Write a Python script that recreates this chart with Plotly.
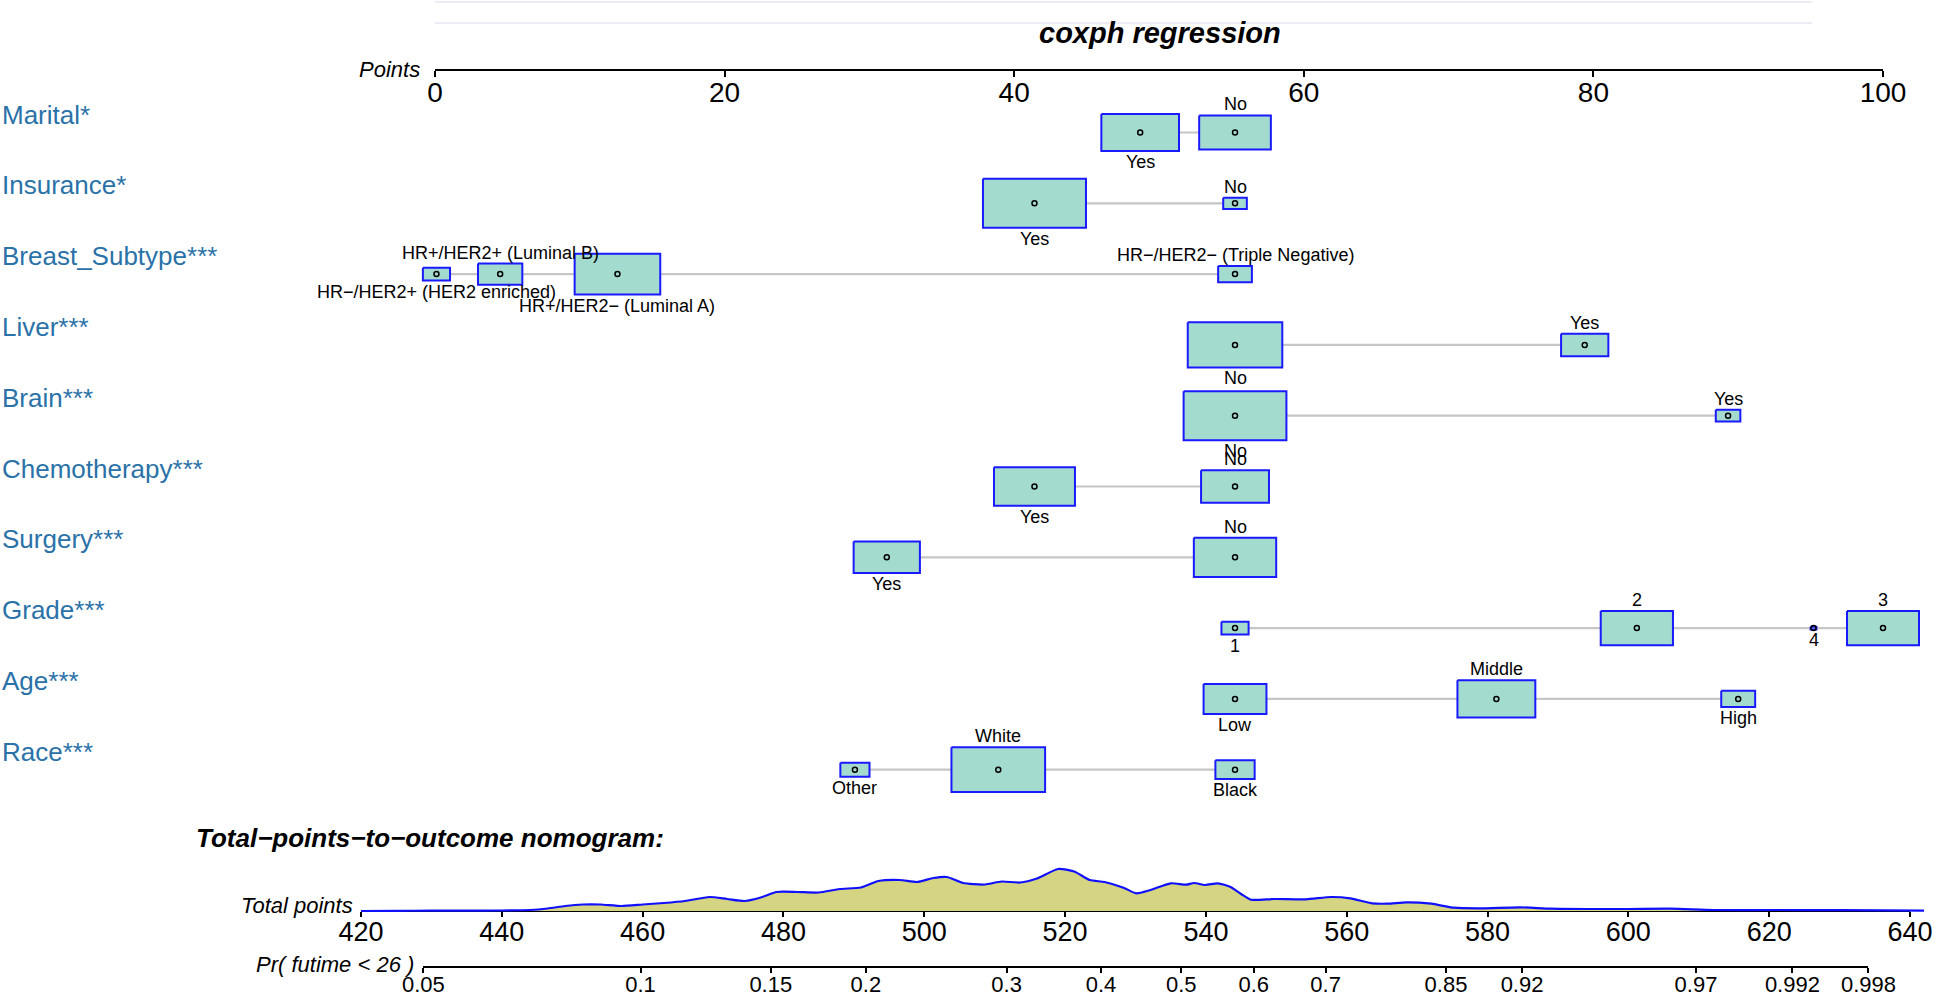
import numpy as np
import plotly.graph_objects as go

W, H = 1946, 996
FONT = "Liberation Sans, Arial, Helvetica, sans-serif"

# ---- nomogram data ----
variables = ["Marital*", "Insurance*", "Breast_Subtype***", "Liver***", "Brain***",
             "Chemotherapy***", "Surgery***", "Grade***", "Age***", "Race***"]
levels = [
    ["Yes", "No"],
    ["Yes", "No"],
    ["HR−/HER2+ (HER2 enriched)", "HR+/HER2+ (Luminal B)",
     "HR+/HER2− (Luminal A)", "HR−/HER2− (Triple Negative)"],
    ["No", "Yes"],
    ["No", "Yes"],
    ["Yes", "No"],
    ["Yes", "No"],
    ["1", "2", "4", "3"],
    ["Low", "Middle", "High"],
    ["Other", "White", "Black"],
]
points = [
    [48.7, 55.25],
    [41.4, 55.25],
    [0.1, 4.5, 12.6, 55.25],
    [55.25, 79.4],
    [55.25, 89.3],
    [41.4, 55.25],
    [31.2, 55.25],
    [55.25, 83.0, 95.2, 100.0],
    [55.25, 73.3, 90.0],
    [29.0, 38.9, 55.25],
]
freq = [
    [0.54, 0.46],
    [0.95, 0.05],
    [0.066, 0.176, 0.656, 0.102],
    [0.80, 0.20],
    [0.946, 0.054],
    [0.587, 0.413],
    [0.393, 0.607],
    [0.066, 0.467, 0.003, 0.464],
    [0.354, 0.543, 0.103],
    [0.076, 0.785, 0.138],
]

points_ticks = [0, 20, 40, 60, 80, 100]
total_ticks = [420, 440, 460, 480, 500, 520, 540, 560, 580, 600, 620, 640]
pr_labels = ["0.05", "0.1", "0.15", "0.2", "0.3", "0.4", "0.5", "0.6", "0.7",
             "0.85", "0.92", "0.97", "0.992", "0.998"]
pr_at_points = [428.85, 459.7, 478.2, 491.7, 511.7, 525.1, 536.5, 546.8, 557.0,
                574.1, 584.9, 609.6, 623.3, 634.1]

dens_x = [420, 425, 430, 435, 440, 444, 446.5, 449, 451.5, 454, 457, 460, 463, 466,
          469.5, 472, 474.5, 477, 479, 482, 485, 488, 491, 493.5, 496.5, 499, 501.3,
          503.2, 505.5, 508.5, 511, 513.6, 516, 519, 521.3, 523.5, 525.6, 528.3, 530.1,
          532, 535, 537.2, 538.3, 539.9, 541.7, 543.5, 545, 546.4, 549.7, 554.2, 557.8,
          560.5, 563.6, 565.8, 568.5, 572, 575.2, 579.2, 584.6, 589, 594.4, 600, 606,
          612.2, 621.2, 630, 642]
density = [0, 0.2, 0.3, 0.4, 0.5, 1, 2.5, 5, 6.5, 6.5, 5, 6.5, 8, 10,
           14, 12, 10, 14, 19, 19, 18.5, 22, 23.5, 30, 31, 29, 33,
           34, 28, 26.5, 29.5, 28.5, 32.5, 42, 39.5, 31, 29, 23.3, 17.7,
           20.7, 27.7, 26.3, 28, 26, 27.7, 24, 17, 11.3, 12, 11.7, 14,
           12.7, 7.7, 7.3, 8.7, 7.3, 3.3, 2.7, 3.7, 2.3, 2, 2, 2.3,
           1, 1, 0.8, 0.3]

# ---- layout geometry (pixels in the 1946x996 page) ----
PTS0_PX, PTS100_PX, PTS_AXIS_PX = 435, 1883, 70
TOT420_PX, TOT640_PX, TOT_AXIS_PX = 361, 1910, 911
PR_AXIS_PX = 967
ROW0_PX, ROW_STEP_PX = 132.5, 70.8
BOX_W_PX, BOX_H_PX = 105.7, 50.4

px_per_pt = (PTS100_PX - PTS0_PX) / 100
px_per_tot = (TOT640_PX - TOT420_PX) / 220


def row_of(py):
    return (py - ROW0_PX) / ROW_STEP_PX


def pyfrac(py):
    return 1 - py / H


BOX_COL = "#a4dbcf"
EDGE_COL = "#1a1aff"
LINE_COL = "#c6c6c6"
LABEL_COL = "#2a72a8"

fig = go.Figure()

# grey connecting lines
lx, ly = [], []
for i, pts in enumerate(points):
    lx += [min(pts), max(pts), None]
    ly += [i, i, None]
fig.add_trace(go.Scatter(x=lx, y=ly, mode="lines", line=dict(color=LINE_COL, width=2.2),
                         hoverinfo="skip", showlegend=False))

# boxes sized by level frequency
bx, by = [], []
annotations = []
for i, (pts, fr, lv) in enumerate(zip(points, freq, levels)):
    for p, f in zip(pts, fr):
        hw = BOX_W_PX * np.sqrt(f) / px_per_pt / 2
        hh = BOX_H_PX * np.sqrt(f) / ROW_STEP_PX / 2
        bx += [p - hw, p + hw, p + hw, p - hw, p - hw, None]
        by += [i - hh, i - hh, i + hh, i + hh, i - hh, None]
    order = np.argsort(pts, kind="stable")
    for rank, j in enumerate(order):
        hh = BOX_H_PX * np.sqrt(fr[j]) / ROW_STEP_PX / 2
        above = rank % 2 == 1
        annotations.append(dict(
            x=pts[j], y=i - hh if above else i + hh, xref="x", yref="y",
            text=lv[j], showarrow=False, xanchor="center",
            yanchor="bottom" if above else "top",
            yshift=-1 if above else 1,
            font=dict(size=18, color="black", family=FONT)))
fig.add_trace(go.Scatter(x=bx, y=by, mode="lines", fill="toself", fillcolor=BOX_COL,
                         line=dict(color=EDGE_COL, width=2), hoverinfo="skip",
                         showlegend=False))

# centre dots
dx = [p for pts in points for p in pts]
dy = [i for i, pts in enumerate(points) for _ in pts]
fig.add_trace(go.Scatter(x=dx, y=dy, mode="markers",
                         marker=dict(symbol="circle-open", size=5, color="black",
                                     line=dict(width=1.5, color="black")),
                         hoverinfo="skip", showlegend=False))

# total points density
fig.add_trace(go.Scatter(x=dens_x, y=density, xaxis="x4", yaxis="y2", mode="lines",
                         fill="tozeroy", fillcolor="#d5d483",
                         line=dict(color="#1010ff", width=2.2, shape="spline", smoothing=0.6),
                         hoverinfo="skip", showlegend=False))

# invisible traces so the scale axes are drawn
for xa, ya, xs in [("x3", "y", points_ticks), ("x2", "y2", total_ticks),
                   ("x5", "y2", pr_at_points)]:
    fig.add_trace(go.Scatter(x=xs, y=[0] * len(xs), xaxis=xa, yaxis=ya, mode="markers",
                             marker=dict(opacity=0), hoverinfo="skip", showlegend=False))

# row labels
for i, name in enumerate(variables):
    annotations.append(dict(x=0, xref="paper", y=i, yref="y", yshift=18, text=name,
                            showarrow=False, xanchor="left", yanchor="middle",
                            font=dict(size=26, color=LABEL_COL, family=FONT)))

annotations += [
    dict(x=1160 / W, y=pyfrac(33), xref="paper", yref="paper",
         text="<b><i>coxph regression</i></b>", showarrow=False,
         xanchor="center", yanchor="middle", font=dict(size=29, color="black", family=FONT)),
    dict(x=422 / W, y=pyfrac(PTS_AXIS_PX), xref="paper", yref="paper",
         text="<i>Points</i>", showarrow=False, xanchor="right", yanchor="middle",
         font=dict(size=22, color="black", family=FONT)),
    dict(x=194 / W, y=pyfrac(838), xref="paper", yref="paper",
         text="<b><i>Total−points−to−outcome nomogram:</i></b>", showarrow=False,
         xanchor="left", yanchor="middle", font=dict(size=26, color="black", family=FONT)),
    dict(x=355 / W, y=pyfrac(905), xref="paper", yref="paper",
         text="<i>Total points</i>", showarrow=False, xanchor="right", yanchor="middle",
         font=dict(size=22, color="black", family=FONT)),
    dict(x=416 / W, y=pyfrac(964), xref="paper", yref="paper",
         text="<i>Pr( futime &lt; 26 )</i>", showarrow=False, xanchor="right",
         yanchor="middle", font=dict(size=22, color="black", family=FONT)),
]

shapes = [
    dict(type="line", xref="paper", yref="paper", x0=435 / W, x1=1812 / W,
         y0=pyfrac(yy), y1=pyfrac(yy), line=dict(color="#e6e6f4", width=1.5))
    for yy in (2, 23)
]

scale_axis = dict(showline=True, linecolor="black", linewidth=2, ticks="outside",
                  tickcolor="black", tickwidth=2, showgrid=False, zeroline=False,
                  anchor="free", side="bottom", fixedrange=True, automargin=False)
hidden = dict(visible=False, fixedrange=True, automargin=False, showgrid=False,
              zeroline=False)

fig.update_layout(
    template="none",
    width=W, height=H, autosize=False,
    margin=dict(l=0, r=0, t=0, b=0, pad=0, autoexpand=False),
    paper_bgcolor="white", plot_bgcolor="rgba(0,0,0,0)",
    font=dict(family=FONT, color="black"),
    showlegend=False,
    xaxis=dict(hidden, domain=[0, 1],
               range=[-PTS0_PX / px_per_pt, (W - PTS0_PX) / px_per_pt]),
    yaxis=dict(hidden, domain=[0, 1], range=[row_of(H), row_of(0)]),
    xaxis4=dict(hidden, domain=[0, 1], anchor="y2",
                range=[420 - TOT420_PX / px_per_tot, 420 + (W - TOT420_PX) / px_per_tot]),
    yaxis2=dict(hidden, domain=[0, 1], anchor="x4", range=[-(H - TOT_AXIS_PX), TOT_AXIS_PX]),
    xaxis3=dict(scale_axis, domain=[PTS0_PX / W, PTS100_PX / W], range=[0, 100],
                position=pyfrac(PTS_AXIS_PX), tickvals=points_ticks, ticklen=6,
                ticklabelstandoff=-9,
                tickfont=dict(size=28, family=FONT, color="black")),
    xaxis2=dict(scale_axis, domain=[TOT420_PX / W, TOT640_PX / W], range=[420, 640],
                position=pyfrac(TOT_AXIS_PX), tickvals=total_ticks, ticklen=5,
                ticklabelstandoff=-8,
                tickfont=dict(size=27, family=FONT, color="black")),
    xaxis5=dict(scale_axis,
                domain=[TOT420_PX / W + (min(pr_at_points) - 420) * px_per_tot / W,
                        TOT420_PX / W + (max(pr_at_points) - 420) * px_per_tot / W],
                range=[min(pr_at_points), max(pr_at_points)],
                position=pyfrac(PR_AXIS_PX), tickvals=pr_at_points, ticktext=pr_labels,
                ticklen=5, ticklabelstandoff=-7,
                tickfont=dict(size=22, family=FONT, color="black")),
    annotations=annotations,
    shapes=shapes,
)

# the page's default body margin would shift the fixed-size figure by 8px
fig.write_html("out.html", config={"displayModeBar": False},
               post_script="document.body.style.margin = '0';")
